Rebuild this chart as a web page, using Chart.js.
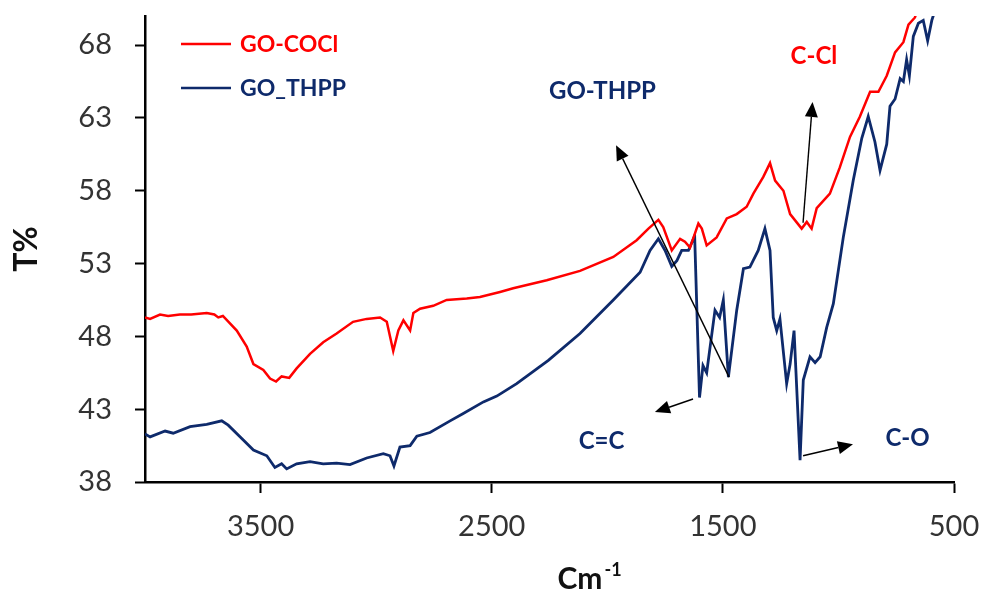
<!DOCTYPE html>
<html><head><meta charset="utf-8">
<script src="https://cdn.jsdelivr.net/npm/chart.js@4/dist/chart.umd.min.js"></script>
<style>html,body{margin:0;padding:0;background:#fff}canvas{display:block}</style>
</head><body>
<canvas id="c" width="983" height="593"></canvas>
<script>
// ---- data ----
const xTicks = [500, 1500, 2500, 3500];
const yTicks = [38, 43, 48, 53, 58, 63, 68];
const seriesNames = ['GO-COCl', 'GO_THPP'];

const cloWn = [4000,3978,3935,3900,3849,3800,3733,3700,3683,3663,3603,3560,3531,3488,3459,3433,3409,3376,3344,3286,3229,3171,3100,3041,2983,2954,2926,2904,2882,2853,2839,2810,2753,2695,2608,2551,2464,2407,2262,2118,1974,1873,1822,1779,1758,1721,1685,1664,1642,1606,1591,1570,1527,1483,1440,1397,1368,1325,1296,1274,1238,1209,1159,1137,1116,1094,1037,994,950,907,863,827,791,755,719,697,669,650];
const cloT = [49.3,49.2,49.5,49.4,49.5,49.5,49.6,49.5,49.3,49.4,48.4,47.3,46.1,45.7,45.1,44.9,45.25,45.15,45.8,46.8,47.6,48.2,49.0,49.2,49.3,49.0,47.0,48.4,49.1,48.4,49.6,49.9,50.1,50.5,50.6,50.7,51.05,51.3,51.85,52.5,53.45,54.6,55.4,56.0,55.5,53.9,54.7,54.5,54.1,55.75,55.4,54.25,54.8,56.1,56.4,56.9,57.8,58.95,59.9,58.7,58.0,56.4,55.4,55.86,55.4,56.8,57.8,59.6,61.7,63.1,64.8,64.8,65.9,67.5,68.2,69.4,69.9,70.8];

const thppWn = [4000,3978,3913,3878,3805,3733,3668,3640,3589,3531,3473,3438,3409,3387,3344,3286,3229,3171,3113,3041,2969,2940,2923,2897,2853,2824,2767,2680,2623,2536,2478,2392,2255,2118,1974,1858,1815,1779,1750,1721,1699,1678,1649,1622,1601,1586,1570,1534,1514,1498,1476,1440,1411,1383,1347,1318,1296,1282,1267,1253,1224,1209,1192,1166,1152,1123,1101,1079,1051,1022,979,936,899,871,842,820,791,777,755,733,719,705,693,676,654,633,614,596,580];
const thppT = [41.3,41.1,41.5,41.35,41.8,41.95,42.2,41.9,41.1,40.2,39.8,39.0,39.25,38.9,39.25,39.4,39.25,39.3,39.2,39.65,39.95,39.8,39.1,40.4,40.5,41.15,41.4,42.2,42.7,43.5,43.9,44.75,46.35,48.2,50.5,52.4,53.9,54.7,53.9,52.8,53.2,53.9,53.9,54.9,43.8,46.0,45.5,49.8,49.3,50.5,45.2,49.8,52.65,52.76,53.9,55.4,53.9,49.3,48.4,49.2,44.75,46.1,48.4,39.5,45.0,46.6,46.2,46.6,48.6,50.25,54.8,58.7,61.6,63.1,61.35,59.4,61.2,63.8,64.3,65.7,65.5,67.0,65.9,68.6,69.5,69.7,68.3,69.7,70.5];

// annotations (in data coordinates)
const noteText = ['GO-THPP', 'C-Cl', 'C=C', 'C-O'];
const noteWn = [2021, 1106, 2025, 701];
const noteT = [64.84, 67.24, 40.78, 41.02];
const noteSeries = [1, 0, 1, 1];
const arrowFromWn = [1473, 1153, 1629, 1153];
const arrowFromT = [45.2, 55.8, 43.7, 39.8];
const arrowToWn = [1962, 1112, 1794, 937];
const arrowToT = [61.13, 64.1, 42.8, 40.6];

// ---- styles ----
const colors = ['#ff0000', '#0e2a6b'];
const FONT = 'Lato, "Open Sans", sans-serif';

const pts = (xs, ys) => xs.map((v, i) => ({x: v, y: ys[i]}));

const overlay = {
  id: 'overlay',
  afterDatasetsDraw(chart) {
    const {ctx, chartArea} = chart;
    const x = chart.scales.x, y = chart.scales.y;
    ctx.save();
    ctx.strokeStyle = '#000'; ctx.fillStyle = '#000'; ctx.lineWidth = 1.4;
    for (let i = 0; i < arrowFromWn.length; i++) {
      const x1 = x.getPixelForValue(arrowFromWn[i]), y1 = y.getPixelForValue(arrowFromT[i]);
      const x2 = x.getPixelForValue(arrowToWn[i]), y2 = y.getPixelForValue(arrowToT[i]);
      const a = Math.atan2(y2 - y1, x2 - x1), L = 15, W = 6.5;
      const bx = x2 - L * Math.cos(a), by = y2 - L * Math.sin(a);
      ctx.beginPath(); ctx.moveTo(x1, y1); ctx.lineTo(bx, by); ctx.stroke();
      ctx.beginPath(); ctx.moveTo(x2, y2);
      ctx.lineTo(bx + W * Math.sin(a), by - W * Math.cos(a));
      ctx.lineTo(bx - W * Math.sin(a), by + W * Math.cos(a));
      ctx.closePath(); ctx.fill();
    }
    ctx.font = 'bold 24px ' + FONT; ctx.textAlign = 'center'; ctx.textBaseline = 'middle';
    for (let i = 0; i < noteText.length; i++) {
      ctx.fillStyle = colors[noteSeries[i]];
      ctx.fillText(noteText[i], x.getPixelForValue(noteWn[i]), y.getPixelForValue(noteT[i]));
    }
    ctx.font = 'bold 23px ' + FONT; ctx.textAlign = 'left';
    for (let i = 0; i < seriesNames.length; i++) {
      const ly = chartArea.top + 28 + i * 44;
      const lx = chartArea.left + 36;
      ctx.strokeStyle = colors[i]; ctx.lineWidth = 2.5;
      ctx.beginPath(); ctx.moveTo(lx, ly); ctx.lineTo(lx + 50, ly); ctx.stroke();
      ctx.fillStyle = colors[i];
      ctx.fillText(seriesNames[i], lx + 59, ly + 1);
    }
    ctx.restore();
  },
  afterDraw(chart) {
    const {ctx, chartArea} = chart;
    ctx.save();
    ctx.fillStyle = '#111';
    ctx.textBaseline = 'alphabetic'; ctx.textAlign = 'left';
    const cx = (chartArea.left + chartArea.right) / 2 + 8;
    const by = chartArea.bottom + 107;
    ctx.font = 'bold 30px ' + FONT;
    ctx.fillText('Cm', cx, by);
    const w = ctx.measureText('Cm').width;
    ctx.font = 'bold 18px ' + FONT;
    ctx.fillText('-1', cx + w + 2, by - 13);
    ctx.restore();
  }
};

new Chart(document.getElementById('c'), {
  type: 'line',
  data: {
    datasets: [
      {label: seriesNames[0], data: pts(cloWn, cloT), borderColor: colors[0], borderWidth: 2.5, pointRadius: 0, tension: 0, fill: false},
      {label: seriesNames[1], data: pts(thppWn, thppT), borderColor: colors[1], borderWidth: 2.8, pointRadius: 0, tension: 0, fill: false}
    ]
  },
  options: {
    responsive: false,
    animation: false,
    layout: {padding: {top: 16, right: 29, left: 0, bottom: 0}},
    plugins: {legend: {display: false}, tooltip: {enabled: false}},
    scales: {
      x: {
        type: 'linear', reverse: true, min: 500, max: 4000,
        afterBuildTicks: s => { s.ticks = xTicks.map(v => ({value: v})); },
        afterFit: s => { s.height = 111; s.paddingLeft = 0; s.paddingRight = 0; },
        grid: {drawOnChartArea: false, drawTicks: true, tickLength: 11, tickWidth: 2, tickColor: '#000'},
        border: {display: true, color: '#000', width: 2.5},
        ticks: {font: {family: FONT, size: 29}, color: '#333', padding: 16, maxRotation: 0, autoSkip: false, callback: v => String(v)},
        title: {display: false}
      },
      y: {
        type: 'linear', min: 38, max: 70,
        afterBuildTicks: s => { s.ticks = yTicks.map(v => ({value: v})); },
        afterFit: s => { s.width = 145; s.paddingTop = 0; s.paddingBottom = 0; },
        grid: {drawOnChartArea: false, drawTicks: true, tickLength: 10, tickWidth: 2, tickColor: '#000'},
        border: {display: true, color: '#000', width: 2.5},
        ticks: {font: {family: FONT, size: 29}, color: '#333', padding: 23, autoSkip: false, callback: v => String(v)},
        title: {display: true, text: 'T%', font: {family: FONT, size: 32, weight: 'bold'}, color: '#111', padding: {top: 7, bottom: 0}}
      }
    }
  },
  plugins: [overlay]
});
</script>
</body></html>
